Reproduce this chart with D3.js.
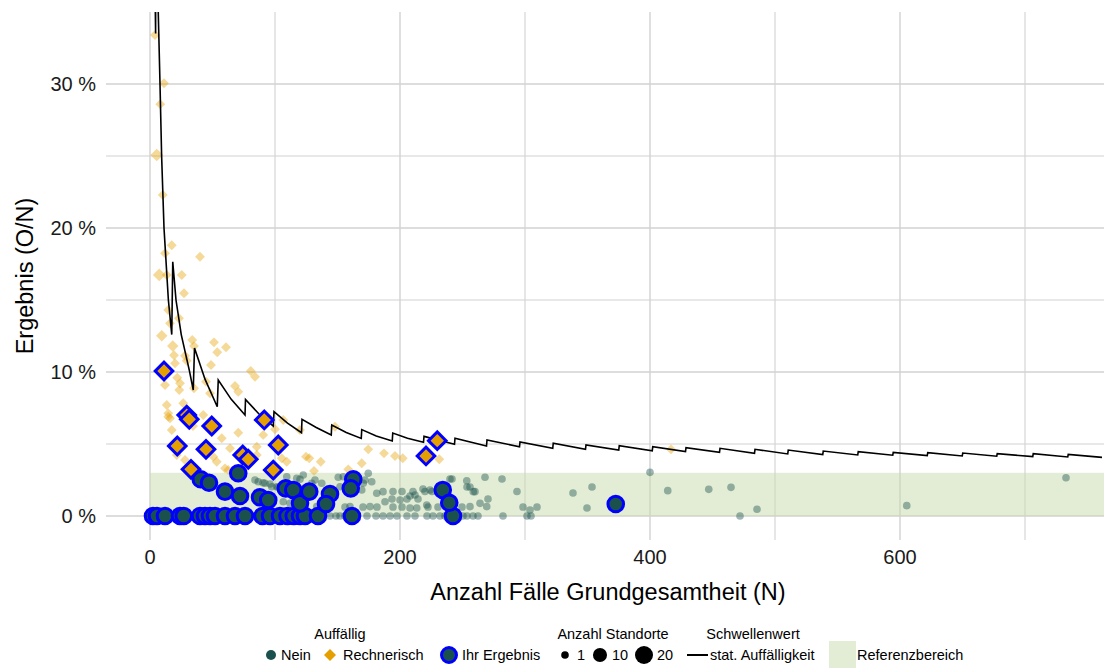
<!DOCTYPE html>
<html>
<head>
<meta charset="utf-8">
<script src="https://cdn.jsdelivr.net/npm/d3@7"></script>
<style>
  html, body { margin: 0; padding: 0; background: #fff; }
  svg { display: block; font-family: "Liberation Sans", Arial, Helvetica, sans-serif; }
</style>
</head>
<body>
<svg id="chart" width="1106" height="668"></svg>
<script>
// ---------------- DATA ----------------
const xTicks = [0, 200, 400, 600];
const xMinorTicks = [100, 300, 500, 700];
const yTicks = [0, 10, 20, 30];
const yMinorTicks = [5, 15, 25];
const referenzBereich = [0, 3]; // percent

// statistical threshold (stat. Auffälligkeit) [N, %]
const schwellenwert = [
  [3.2, 42], [4.5, 33.5], [4.55, 60], [6.6, 35], [8, 30], [9.3, 25], [11.2, 20], [14.7, 15], [17.4, 12.6],
  [18.2, 17.66], [20.8, 15], [25, 12.6], [31.5, 10.1], [34.6, 8.75],
  [35.6, 11.67], [44, 9.5], [53.8, 7.59],
  [54.6, 9.44], [65, 8.1], [76, 7.01],
  [76.4, 8.10], [87, 7.1], [98.6, 6.25],
  [99.2, 7.24], [110, 6.45], [121.2, 5.78],
  [121.6, 6.72], [133, 6.15], [145.0, 5.63],
  [145.4, 6.32], [157, 5.8], [169.0, 5.39],
  [169.4, 6.0], [181, 5.55], [193.8, 5.21],
  [194.2, 5.76], [206, 5.4], [218.8, 5.12],
  [219.2, 5.53], [243.6, 4.98],
  [244, 5.40], [269.2, 4.86],
  [269.6, 5.28], [295.6, 4.81],
  [296, 5.14], [322.2, 4.70],
  [322.6, 5.05], [348.4, 4.63],
  [348.8, 4.93], [375, 4.58],
  [375.4, 4.88], [401.8, 4.53],
  [402.2, 4.81], [428.4, 4.47],
  [428.8, 4.74], [455.6, 4.42],
  [456, 4.70], [483.6, 4.35],
  [484, 4.63], [510.2, 4.31],
  [510.6, 4.58], [538.2, 4.26],
  [538.6, 4.51], [566.2, 4.24],
  [566.6, 4.47], [594.2, 4.22],
  [594.6, 4.42], [621.8, 4.19],
  [622.2, 4.40], [649.8, 4.17],
  [650.2, 4.375], [677.4, 4.15],
  [677.8, 4.33], [706.2, 4.12],
  [706.6, 4.33], [734.2, 4.10],
  [734.6, 4.28], [761.6, 4.07]
];

// Auffällig = Nein (all other sites) [N, %]
const neinPoints = [
  [144,0],[148.8,0],[152,0],[156,0],[161.6,0],[173.6,0],[180.8,0],[186.4,0],[192,0],[197.6,0],
  [205.6,0],[212,0],[221.6,0],[226.4,0],[232,0],[236,0],[244,0],[250.4,0],[253.6,0],[258.4,0],
  [262.4,0],[282.4,0],[301.6,0],[304.8,0],[472,0],
  [133.4,0.65],[156,0.62],[160,0.65],[170.4,0.62],[176,0.65],[181.6,0.62],[194.4,0.62],[201.6,0.62],
  [208,0.56],[213.4,0.56],[222.4,0.62],[230.4,0.62],[240,0.62],[249.6,0.62],[256,0.65],[264,0.88],
  [269.4,0.65],[298.4,0.62],[304,0.42],[309.6,0.62],[349.6,0.56],[485.6,0.47],[605.4,0.72],
  [221.4,0.76],[117.4,0.88],[112,0.88],[106.6,0.99],[98.6,1.11],[85.4,1.23],[188,0.99],[200,1.11],
  [193.6,1.18],[205.6,1.18],[208,1.39],[212,1.46],[214.4,1.18],[238.4,1.18],[241.6,1.18],[270.4,1.18],
  [186.4,1.69],[194.4,1.7],[201.6,1.7],[210.4,1.7],[220,1.7],[225.6,1.7],[260,1.69],[258.6,1.69],
  [293.6,1.7],[338.4,1.6],[414.2,1.76],[447,1.85],[464.8,1.99],[169.4,1.81],[122.4,1.81],[218.4,1.88],
  [224,1.81],[181.4,1.58],
  [253.6,2.01],[256,2.01],[353.6,2.01],[152,2.03],[101.4,2.03],[106.6,1.92],[97.4,2.03],[102.6,1.99],
  [170.6,2.27],
  [84,2.5],[86.6,2.38],[90.4,2.31],[92,2.27],[96,2.22],[117.4,2.62],[120,2.55],[122.6,2.85],[109.4,2.73],
  [132,2.5],[129.4,2.27],[137.4,2.27],[150.6,2.69],[154.6,2.73],[174.6,2.97],[177.4,2.38],[172,2.5],
  [240,2.57],[241.6,2.57],[253.4,2.45],[268,2.69],[281.6,2.57],[400,3.03],[732.8,2.66]
];

// Auffällig = Rechnerisch [N, %, Anzahl Standorte]
const rechnerischPoints = [
  [4,33.4,1],[11.2,30.05,1],[8.2,28.6,1],[5.4,25.07,3],[10.2,22.3,1],[17.4,18.8,1],[12,18.24,1],
  [40,18.0,1],[7.4,16.74,3],[13.4,16.74,1],[25.4,16.74,1],[27.2,15.47,1],[14.6,14.31,1],[23.2,13.73,1],
  [16,13.38,1],[9.4,12.52,2],[33.8,12.22,1],[35.2,11.8,1],[51.2,12.06,1],[53.8,11.37,1],[60.8,11.72,1],
  [18.2,11.8,2],[19.2,11.16,1],[28,11.13,1],[29.4,10.78,1],[20,10.6,1],[48.8,10.49,1],[80.6,10.07,1],
  [84,9.67,1],[12,9.1,1],[21.8,9.6,1],[24,9.22,1],[23.4,8.75,1],[35.2,8.87,1],[44.8,9.33,1],[48,8.52,1],
  [68,9.03,1],[70.6,8.63,1],[13.4,7.71,1],[26.6,7.83,1],[14.6,7.13,1],[17.4,5.97,1],[42.6,7.01,1],
  [70.6,5.78,1],[57.4,5.4,1],[64,4.7,1],[85.4,4.81,1],[90.6,5.63,1],[100,6.02,1],[21.4,4.24,1],
  [28,3.89,1],[50.6,4.12,1],[53.4,3.77,1],[60,3.31,1],[62.6,3.19,1],[85.4,4.24,1],[105.4,4.01,1],
  [109.4,3.77,1],[124.8,4.12,1],[120,5.97,1],[106.6,6.67,1],[148,6.2,1],[127.4,4.01,1],[136.6,3.77,1],
  [131.2,3.13,1],[158.6,3.24,1],[169.4,3.66,1],[174.6,4.63,1],[187.2,4.35,1],[196,4.17,1],[202.2,4.01,1],
  [231.4,3.94,1],[416.8,4.63,1],[34.4,6.25,1],[16,6.78,1],[14.6,6.9,1]
];

// Ihr Ergebnis – not conspicuous (circles) [N, %]
const ihrNein = [
  [2.4,0],[5.6,0],[12,0],[24,0],[27,0],[40,0],[44,0],[48,0],[52,0],[60,0],[68,0],[76,0],[90,0],[96,0],
  [104,0],[110,0],[115,0],[120,0],[124,0],[134.4,0],[161.6,0],[242.4,0],
  [70.6,2.97],[40.6,2.55],[47.2,2.31],[60,1.69],[72,1.39],[88,1.3],[94.6,1.11],[108.6,1.92],[114.6,1.81],
  [120,0.88],[127.4,1.69],[144,1.53],[140.8,0.83],[162.6,2.55],[160.6,1.92],[234.2,1.81],[239.4,0.92],
  [372.6,0.83]
];

// Ihr Ergebnis – Rechnerisch auffällig (diamonds) [N, %]
const ihrRechnerisch = [
  [11.2,10.07],[29.4,7.01],[31.4,6.72],[49.4,6.25],[21.8,4.86],[44.8,4.63],[91.4,6.67],[102.6,4.93],
  [74.2,4.24],[78.6,3.94],[98.6,3.19],[32.8,3.24],[229.8,5.23],[220.8,4.17]
];

const legendSizes = [1, 10, 20];

// ---------------- STYLE ----------------
const colNein = "#1a514c";
const colOrange = "#E69F00";
const colBlue = "#0000ff";
const colBand = "#e3ecd4";
const colGrid = "#d2d2d2";

const svg = d3.select("#chart");
const P = { left: 106, right: 1104, top: 12, bottom: 540 };

const x = d3.scaleLinear().domain([-35.2, 763.2]).range([P.left, P.right]);
const y = d3.scaleLinear().domain([-24 / 14.4, 35]).range([P.bottom, P.top]);
const rSize = d3.scaleSqrt().domain([1, 20]).range([3.8, 9]);

svg.append("defs").append("clipPath").attr("id", "clip")
  .append("rect").attr("x", P.left).attr("y", P.top)
  .attr("width", P.right - P.left).attr("height", P.bottom - P.top);

// grid
const grid = svg.append("g");
grid.selectAll(".vmin").data(xMinorTicks).join("line")
  .attr("x1", d => x(d)).attr("x2", d => x(d)).attr("y1", P.top).attr("y2", P.bottom)
  .attr("stroke", colGrid).attr("stroke-width", 1.1);
grid.selectAll(".hmin").data(yMinorTicks).join("line")
  .attr("y1", d => y(d)).attr("y2", d => y(d)).attr("x1", P.left).attr("x2", P.right)
  .attr("stroke", colGrid).attr("stroke-width", 1.1);
grid.selectAll(".vmaj").data(xTicks).join("line")
  .attr("x1", d => x(d)).attr("x2", d => x(d)).attr("y1", P.top).attr("y2", P.bottom)
  .attr("stroke", colGrid).attr("stroke-width", 1.4);
grid.selectAll(".hmaj").data(yTicks).join("line")
  .attr("y1", d => y(d)).attr("y2", d => y(d)).attr("x1", P.left).attr("x2", P.right)
  .attr("stroke", colGrid).attr("stroke-width", 1.4);

// reference band (semi-transparent over grid)
svg.append("rect")
  .attr("x", x(0)).attr("y", y(referenzBereich[1]))
  .attr("width", P.right - x(0)).attr("height", y(referenzBereich[0]) - y(referenzBereich[1]))
  .attr("fill", "#c7daa9").attr("fill-opacity", 0.5);

const plot = svg.append("g").attr("clip-path", "url(#clip)");

const diamond = (half) => {
  const s = half * Math.SQRT2;
  return d3.symbol().type(d3.symbolSquare).size(s * s)();
};

// background Nein
plot.append("g").selectAll("circle").data(neinPoints).join("circle")
  .attr("cx", d => x(d[0])).attr("cy", d => y(d[1])).attr("r", rSize(1))
  .attr("fill", colNein).attr("fill-opacity", 0.42);

// background Rechnerisch
plot.append("g").selectAll("path").data(rechnerischPoints).join("path")
  .attr("d", d => diamond(rSize(d[2]) * 1.3))
  .attr("transform", d => `translate(${x(d[0])},${y(d[1])}) rotate(45)`)
  .attr("fill", colOrange).attr("fill-opacity", 0.4);

// threshold line
plot.append("path").datum(schwellenwert)
  .attr("d", d3.line().x(d => x(d[0])).y(d => y(d[1])))
  .attr("fill", "none").attr("stroke", "#000").attr("stroke-width", 1.6)
  .attr("stroke-linejoin", "miter");

// Ihr Ergebnis circles
plot.append("g").selectAll("circle").data(ihrNein).join("circle")
  .attr("cx", d => x(d[0])).attr("cy", d => y(d[1])).attr("r", 7.8)
  .attr("fill", colNein).attr("stroke", colBlue).attr("stroke-width", 3);

// Ihr Ergebnis diamonds
plot.append("g").selectAll("path").data(ihrRechnerisch).join("path")
  .attr("d", diamond(8.8))
  .attr("transform", d => `translate(${x(d[0])},${y(d[1])}) rotate(45)`)
  .attr("fill", colOrange).attr("stroke", colBlue).attr("stroke-width", 3);

// axes labels
svg.append("g").selectAll("text").data(yTicks).join("text")
  .attr("x", 96).attr("y", d => y(d)).attr("dy", "0.36em")
  .attr("text-anchor", "end").attr("font-size", 20).attr("fill", "#1a1a1a")
  .text(d => `${d} %`);
svg.append("g").selectAll("text").data(xTicks).join("text")
  .attr("x", d => x(d)).attr("y", 564)
  .attr("text-anchor", "middle").attr("font-size", 20).attr("fill", "#1a1a1a")
  .text(d => d);

svg.append("text").attr("x", (P.left + P.right) / 2 + 3).attr("y", 600)
  .attr("text-anchor", "middle").attr("font-size", 23.5).attr("fill", "#000")
  .text("Anzahl Fälle Grundgesamtheit (N)");
svg.append("text")
  .attr("transform", `translate(33,${(P.top + P.bottom) / 2}) rotate(-90)`)
  .attr("text-anchor", "middle").attr("font-size", 23.5).attr("fill", "#000")
  .text("Ergebnis (O/N)");

// ---------------- LEGEND ----------------
const lg = svg.append("g").attr("font-size", 14.5).attr("fill", "#000");
const ly = 655, lty = 639;

lg.append("text").attr("x", 340).attr("y", lty).attr("text-anchor", "middle").text("Auffällig");
lg.append("circle").attr("cx", 271).attr("cy", ly).attr("r", 5).attr("fill", colNein);
lg.append("text").attr("x", 281).attr("y", ly).attr("dy", "0.36em").text("Nein");
lg.append("path").attr("d", diamond(6)).attr("transform", `translate(330,${ly}) rotate(45)`).attr("fill", colOrange);
lg.append("text").attr("x", 343).attr("y", ly).attr("dy", "0.36em").text("Rechnerisch");

lg.append("circle").attr("cx", 449).attr("cy", ly).attr("r", 7.5).attr("fill", colNein)
  .attr("stroke", colBlue).attr("stroke-width", 3);
lg.append("text").attr("x", 462).attr("y", ly).attr("dy", "0.36em").text("Ihr Ergebnis");

lg.append("text").attr("x", 613).attr("y", lty).attr("text-anchor", "middle").text("Anzahl Standorte");
const sizeX = [565, 600, 644];
const sizeTX = [577, 612, 657];
legendSizes.forEach((s, i) => {
  lg.append("circle").attr("cx", sizeX[i]).attr("cy", ly).attr("r", rSize(s)).attr("fill", "#000");
  lg.append("text").attr("x", sizeTX[i]).attr("y", ly).attr("dy", "0.36em").text(s);
});

lg.append("text").attr("x", 753).attr("y", lty).attr("text-anchor", "middle").text("Schwellenwert");
lg.append("line").attr("x1", 687).attr("x2", 708).attr("y1", ly).attr("y2", ly)
  .attr("stroke", "#000").attr("stroke-width", 2);
lg.append("text").attr("x", 710).attr("y", ly).attr("dy", "0.36em").text("stat. Auffälligkeit");

lg.append("rect").attr("x", 829).attr("y", 641).attr("width", 27).attr("height", 28).attr("fill", colBand);
lg.append("text").attr("x", 857).attr("y", ly).attr("dy", "0.36em").text("Referenzbereich");
</script>
</body>
</html>
